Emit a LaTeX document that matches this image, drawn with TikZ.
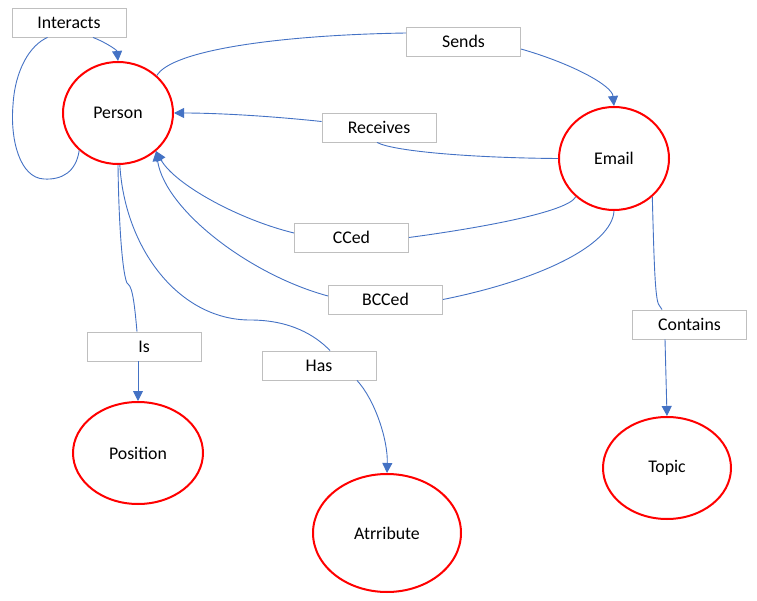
\documentclass[tikz,border=0pt]{standalone}
\usepackage{fontspec}
\setmainfont{Carlito}
\usetikzlibrary{shapes.geometric,arrows.meta}
\definecolor{lnblue}{HTML}{4472C4}
\definecolor{boxgray}{HTML}{BFBFBF}
\tikzset{
  entity/.style={ellipse, draw=red, line width=2pt, fill=white, inner sep=0pt,
    font=\fontsize{17.8}{21}\selectfont},
  relbox/.style={rectangle, draw=boxgray, line width=0.9pt, fill=white, inner sep=0pt,
    minimum width=114pt, minimum height=29pt, font=\fontsize{17.8}{21}\selectfont},
  conn/.style={draw=lnblue, line width=0.9pt},
  arr/.style={conn, -{Triangle[length=10pt,width=10pt]}}
}
\begin{document}
\begin{tikzpicture}[x=1pt,y=-1pt]
\useasboundingbox (0,0) rectangle (757,601);
% entities
\node[entity, minimum width=110pt, minimum height=102pt] (person) at (118,113) {Person};
\node[entity, minimum width=110pt, minimum height=103pt] (email) at (614,158.5) {Email};
\node[entity, minimum width=130pt, minimum height=102pt] (position) at (138,453) {Position};
\node[entity, minimum width=148pt, minimum height=118pt] (attr) at (387,533) {Atrribute};
\node[entity, minimum width=128pt, minimum height=102pt] (topic) at (667,468) {Topic};
% relation labels
\node[relbox] (inter) at (69,22.5) {Interacts};
\node[relbox] (sends) at (463.5,41.5) {Sends};
\node[relbox] (rec) at (379,127.5) {Receives};
\node[relbox] (cc) at (351.5,237.5) {CCed};
\node[relbox] (bcc) at (385.5,299.5) {BCCed};
\node[relbox] (is) at (144,346.5) {Is};
\node[relbox] (has) at (319,365.5) {Has};
\node[relbox] (cont) at (689.5,324.5) {Contains};
% Interacts (self loop)
\draw[conn] (person.224) .. controls (76,172) and (62,180) .. (44,179)
  .. controls (20,178) and (10,140) .. (13,105)
  .. controls (15,70) and (30,45) .. ([xshift=36pt]inter.south west);
\draw[arr] ([xshift=24pt]inter.south) .. controls (105,42) and (117,50) .. (person.north);
% Sends
\draw[conn] (person.44) .. controls (172,50) and (280,35) .. ([yshift=8.5pt]sends.west);
\draw[arr] ([yshift=-7.5pt]sends.east) .. controls (570,63) and (612,85) .. (email.north);
% Receives
\draw[conn] (email.west) .. controls (480,158) and (395,152) .. ([xshift=-2pt]rec.south);
\draw[arr] ([yshift=6pt]rec.west) .. controls (260,115) and (210,113) .. (person.east);
% CCed
\draw[conn] (email.-135) .. controls (568,212) and (480,228) .. (cc.east);
\draw[arr] ([yshift=4.5pt]cc.west) .. controls (240,220) and (175,185) .. (person.-45);
% BCCed
\draw[conn] (email.south) .. controls (612,245) and (540,280) .. (bcc.east);
\draw[arr] ([yshift=3.5pt]bcc.west) .. controls (250,275) and (165,210) .. (person.-45);
% Is
\draw[conn] (person.south) .. controls (119,240) and (124,283) .. (128,284)
  .. controls (133,287) and (135,310) .. ([xshift=-7pt]is.north);
\draw[arr] ([xshift=-6pt]is.south) -- (position.north);
% Has
\draw[conn] (person.-88) .. controls (125,250) and (180,320) .. (250,320)
  .. controls (290,320) and (315,335) .. ([xshift=11pt]has.north);
\draw[arr] ([xshift=38pt]has.south) .. controls (375,400) and (388,440) .. (attr.north);
% Contains
\draw[conn] (email.-45) .. controls (654,260) and (655,300) .. (659,305)
  -- ([xshift=-27.5pt]cont.north);
\draw[arr] ([xshift=-24.5pt]cont.south) -- (topic.north);
\end{tikzpicture}
\end{document}
